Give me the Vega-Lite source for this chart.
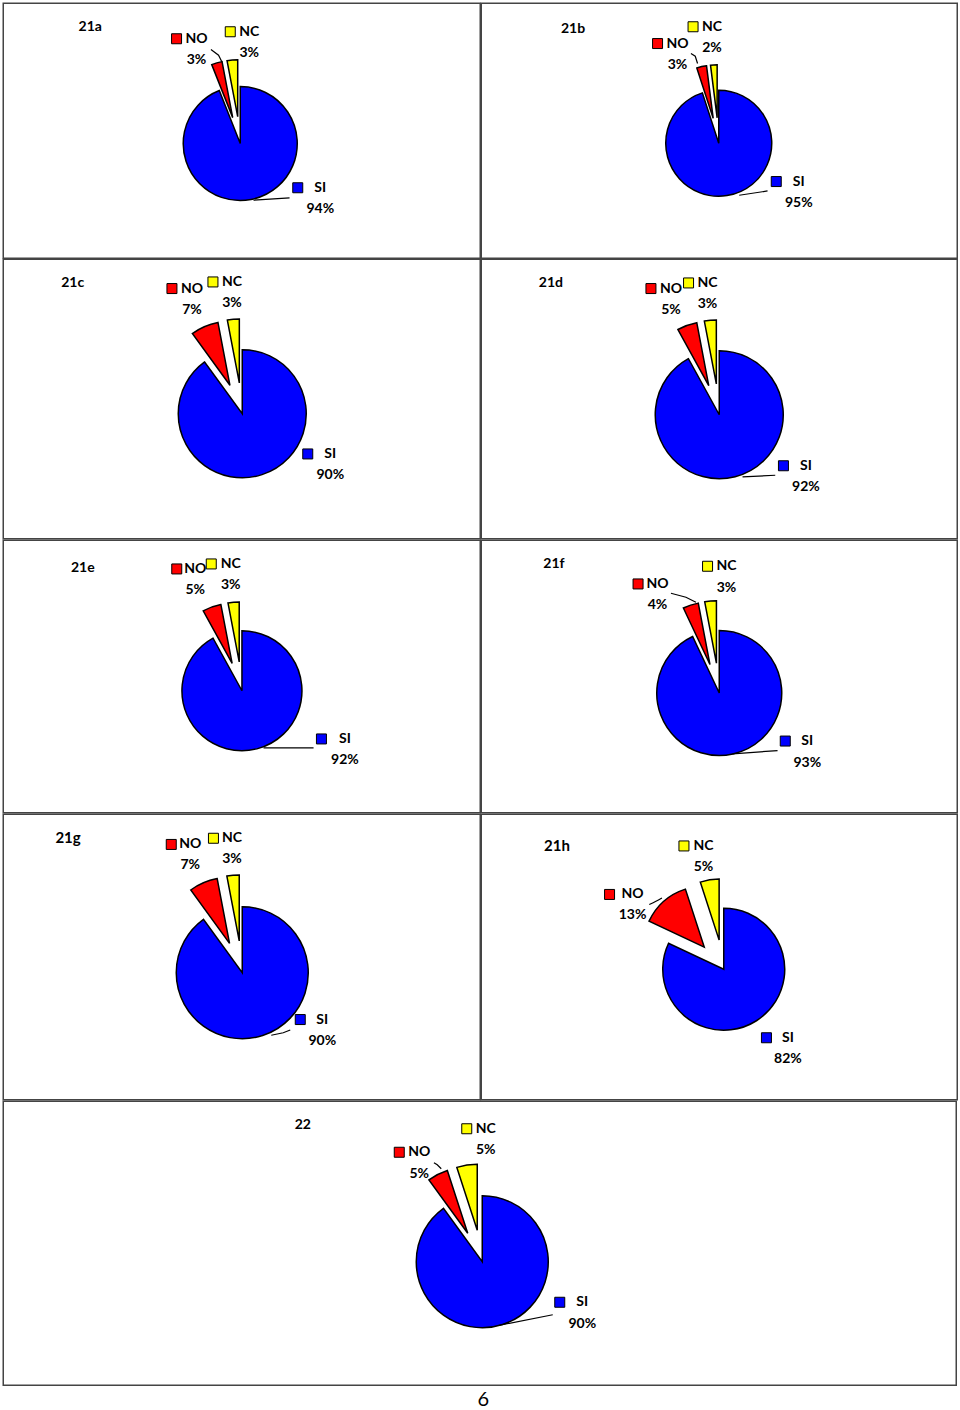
{
"$schema": "https://vega.github.io/schema/vega-lite/v6.json",
"background": "white",
"padding": {"left": 2.25, "top": 2.25, "right": 0, "bottom": 0},
"spacing": -1.5,
"config": {"view": {"stroke": "#444", "strokeWidth": 1.5}, "concat": {"spacing": -1.5}},
"title": {"text": "6", "orient": "bottom", "anchor": "middle", "font": "Lato", "fontSize": 20, "fontWeight": "normal", "color": "black", "offset": 4, "dx": 3},
"datasets": {
"slices": [
{"panel":"21a","cat":"SI","ord":1,"pct":0.94,"lx":80,"ly":44.2},
{"panel":"21a","cat":"NO","ord":2,"pct":0.03,"lx":-43.7,"ly":-104.8},
{"panel":"21a","cat":"NC","ord":3,"pct":0.03,"lx":9,"ly":-111.8},
{"panel":"21b","cat":"SI","ord":1,"pct":0.95,"lx":80,"ly":38.3},
{"panel":"21b","cat":"NO","ord":2,"pct":0.03,"lx":-41.2,"ly":-99.7},
{"panel":"21b","cat":"NC","ord":3,"pct":0.02,"lx":-6.7,"ly":-116.5},
{"panel":"21c","cat":"SI","ord":1,"pct":0.90,"lx":88,"ly":40.2},
{"panel":"21c","cat":"NO","ord":2,"pct":0.07,"lx":-50.3,"ly":-125.2},
{"panel":"21c","cat":"NC","ord":3,"pct":0.03,"lx":-10.3,"ly":-131.8},
{"panel":"21d","cat":"SI","ord":1,"pct":0.92,"lx":86.7,"ly":51},
{"panel":"21d","cat":"NO","ord":2,"pct":0.05,"lx":-48.3,"ly":-126.2},
{"panel":"21d","cat":"NC","ord":3,"pct":0.03,"lx":-11.7,"ly":-131.8},
{"panel":"21e","cat":"SI","ord":1,"pct":0.92,"lx":103,"ly":48.2},
{"panel":"21e","cat":"NO","ord":2,"pct":0.05,"lx":-46.7,"ly":-121.8},
{"panel":"21e","cat":"NC","ord":3,"pct":0.03,"lx":-11.2,"ly":-126.8},
{"panel":"21f","cat":"SI","ord":1,"pct":0.93,"lx":88,"ly":48},
{"panel":"21f","cat":"NO","ord":2,"pct":0.04,"lx":-61.7,"ly":-109.1},
{"panel":"21f","cat":"NC","ord":3,"pct":0.03,"lx":7.3,"ly":-126.8},
{"panel":"21g","cat":"SI","ord":1,"pct":0.90,"lx":80,"ly":46.8},
{"panel":"21g","cat":"NO","ord":2,"pct":0.07,"lx":-52,"ly":-128.3},
{"panel":"21g","cat":"NC","ord":3,"pct":0.03,"lx":-10.3,"ly":-134.5},
{"panel":"21h","cat":"SI","ord":1,"pct":0.82,"lx":64.2,"ly":68.5},
{"panel":"21h","cat":"NO","ord":2,"pct":0.13,"lx":-91.2,"ly":-74.8},
{"panel":"21h","cat":"NC","ord":3,"pct":0.05,"lx":-20.3,"ly":-123.3},
{"panel":"22","cat":"SI","ord":1,"pct":0.90,"lx":100,"ly":40.5},
{"panel":"22","cat":"NO","ord":2,"pct":0.05,"lx":-63,"ly":-109.5},
{"panel":"22","cat":"NC","ord":3,"pct":0.05,"lx":3.5,"ly":-133}
],
"titles": [
{"panel":"21a","tx":-150,"ty":-116.8},
{"panel":"21b","tx":-145.7,"ty":-114.7},
{"panel":"21c","tx":-169.5,"ty":-131},
{"panel":"21d","tx":-168.3,"ty":-131.8},
{"panel":"21e","tx":-159.2,"ty":-122.5},
{"panel":"21f","tx":-165.3,"ty":-128.8},
{"panel":"21g","tx":-174.2,"ty":-135},
{"panel":"21h","tx":-166.7,"ty":-123.5},
{"panel":"22","tx":-179.5,"ty":-137}
],
"leaders": [
{"panel":"21a","id":"SI","seq":1,"x":49.3,"y":54.4},
{"panel":"21a","id":"SI","seq":2,"x":13.3,"y":56.7},
{"panel":"21a","id":"NO","seq":1,"x":-29.3,"y":-94},
{"panel":"21a","id":"NO","seq":2,"x":-21.7,"y":-88.3},
{"panel":"21a","id":"NO","seq":3,"x":-18.3,"y":-81.6},
{"panel":"21b","id":"SI","seq":1,"x":48.8,"y":47.7},
{"panel":"21b","id":"SI","seq":2,"x":20.5,"y":52},
{"panel":"21b","id":"NO","seq":1,"x":-27.8,"y":-89.7},
{"panel":"21b","id":"NO","seq":2,"x":-23.5,"y":-87},
{"panel":"21b","id":"NO","seq":3,"x":-21.2,"y":-79.7},
{"panel":"21d","id":"SI","seq":1,"x":56,"y":60.5},
{"panel":"21d","id":"SI","seq":2,"x":23.3,"y":62.2},
{"panel":"21e","id":"SI","seq":1,"x":71.6,"y":57.2},
{"panel":"21e","id":"SI","seq":2,"x":21.6,"y":57.2},
{"panel":"21f","id":"SI","seq":1,"x":58.3,"y":57.5},
{"panel":"21f","id":"SI","seq":2,"x":13.3,"y":60.9},
{"panel":"21f","id":"NO","seq":1,"x":-48.3,"y":-99.8},
{"panel":"21f","id":"NO","seq":2,"x":-33.3,"y":-95.8},
{"panel":"21f","id":"NO","seq":3,"x":-23.3,"y":-90.8},
{"panel":"21g","id":"SI","seq":1,"x":48,"y":57.2},
{"panel":"21g","id":"SI","seq":2,"x":41,"y":60},
{"panel":"21g","id":"SI","seq":3,"x":29,"y":62.5},
{"panel":"21h","id":"NO","seq":1,"x":-74.5,"y":-64.7},
{"panel":"21h","id":"NO","seq":2,"x":-67.8,"y":-68},
{"panel":"21h","id":"NO","seq":3,"x":-61.8,"y":-71.3},
{"panel":"22","id":"SI","seq":1,"x":70.5,"y":53},
{"panel":"22","id":"SI","seq":2,"x":17,"y":63.5},
{"panel":"22","id":"NO","seq":1,"x":-48.3,"y":-99.1},
{"panel":"22","id":"NO","seq":2,"x":-45,"y":-97},
{"panel":"22","id":"NO","seq":3,"x":-41,"y":-93}
]
},
"vconcat": [
{"hconcat": [
{"width": 477, "height": 255, "data": {"name": "slices"}, "transform": [{"filter": "datum.panel == '21a'"}],
 "encoding": {"x": {"field": "lx", "type": "quantitative", "axis": null, "scale": {"domain": [-237, 240], "nice": false, "zero": false}},
              "y": {"field": "ly", "type": "quantitative", "axis": null, "scale": {"domain": [-140.3, 114.7], "nice": false, "zero": false, "reverse": true}}},
 "layer": [
  {"mark": {"type": "arc", "radius": 57, "stroke": "black", "strokeWidth": 1.5,
    "xOffset": {"expr": "datum.cat == 'SI' ? 0 : 27 * sin(PI * (datum.pct_start + datum.pct_end))"},
    "yOffset": {"expr": "datum.cat == 'SI' ? 0 : -27 * cos(PI * (datum.pct_start + datum.pct_end))"}},
   "encoding": {"x": {"datum": 0, "type": "quantitative", "axis": null}, "y": {"datum": 0, "type": "quantitative", "axis": null},
    "theta": {"field": "pct", "type": "quantitative", "stack": true, "scale": {"domain": [0, 1]}},
    "order": {"field": "ord", "type": "quantitative"},
    "color": {"field": "cat", "type": "nominal", "legend": null, "scale": {"domain": ["SI", "NO", "NC"], "range": ["#0000FF", "#FF0000", "#FFFF00"]}}}},
  {"data": {"name": "leaders"}, "transform": [{"filter": "datum.panel == '21a'"}], "mark": {"type": "line", "color": "black", "strokeWidth": 1.2},
   "encoding": {"x": {"field": "x", "type": "quantitative", "axis": null}, "y": {"field": "y", "type": "quantitative", "axis": null}, "detail": {"field": "id"}, "order": {"field": "seq"}}},
  {"mark": {"type": "point", "shape": "square", "size": 100, "filled": true, "opacity": 1, "stroke": "black", "strokeWidth": 1,
    "xOffset": {"expr": "datum.cat == 'SI' ? -22.5 : datum.cat == 'NO' ? -20 : -19"}},
   "encoding": {"color": {"field": "cat", "type": "nominal", "legend": null}}},
  {"mark": {"type": "text", "font": "Lato", "fontWeight": "bold", "fontSize": 14, "align": "center", "baseline": "middle", "color": "black"},
   "encoding": {"text": {"field": "cat"}}},
  {"mark": {"type": "text", "font": "Lato", "fontWeight": "bold", "fontSize": 14, "align": "center", "baseline": "middle", "color": "black", "dy": 21.5},
   "encoding": {"text": {"field": "pct", "type": "quantitative", "format": ".0%"}}},
  {"data": {"name": "titles"}, "transform": [{"filter": "datum.panel == '21a'"}], "mark": {"type": "text", "font": "Lato", "fontWeight": "bold", "fontSize": 14, "align": "center", "baseline": "middle", "color": "black"},
   "encoding": {"x": {"field": "tx", "type": "quantitative", "axis": null}, "y": {"field": "ty", "type": "quantitative", "axis": null}, "text": {"field": "panel"}}}
 ]},
{"width": 476, "height": 255, "data": {"name": "slices"}, "transform": [{"filter": "datum.panel == '21b'"}],
 "encoding": {"x": {"field": "lx", "type": "quantitative", "axis": null, "scale": {"domain": [-237.5, 238.5], "nice": false, "zero": false}},
              "y": {"field": "ly", "type": "quantitative", "axis": null, "scale": {"domain": [-140, 115], "nice": false, "zero": false, "reverse": true}}},
 "layer": [
  {"mark": {"type": "arc", "radius": 53, "stroke": "black", "strokeWidth": 1.5,
    "xOffset": {"expr": "datum.cat == 'SI' ? 0 : 25.5 * sin(PI * (datum.pct_start + datum.pct_end))"},
    "yOffset": {"expr": "datum.cat == 'SI' ? 0 : -25.5 * cos(PI * (datum.pct_start + datum.pct_end))"}},
   "encoding": {"x": {"datum": 0, "type": "quantitative", "axis": null}, "y": {"datum": 0, "type": "quantitative", "axis": null},
    "theta": {"field": "pct", "type": "quantitative", "stack": true, "scale": {"domain": [0, 1]}},
    "order": {"field": "ord", "type": "quantitative"},
    "color": {"field": "cat", "type": "nominal", "legend": null, "scale": {"domain": ["SI", "NO", "NC"], "range": ["#0000FF", "#FF0000", "#FFFF00"]}}}},
  {"data": {"name": "leaders"}, "transform": [{"filter": "datum.panel == '21b'"}], "mark": {"type": "line", "color": "black", "strokeWidth": 1.2},
   "encoding": {"x": {"field": "x", "type": "quantitative", "axis": null}, "y": {"field": "y", "type": "quantitative", "axis": null}, "detail": {"field": "id"}, "order": {"field": "seq"}}},
  {"mark": {"type": "point", "shape": "square", "size": 100, "filled": true, "opacity": 1, "stroke": "black", "strokeWidth": 1,
    "xOffset": {"expr": "datum.cat == 'SI' ? -22.5 : datum.cat == 'NO' ? -20 : -19"}},
   "encoding": {"color": {"field": "cat", "type": "nominal", "legend": null}}},
  {"mark": {"type": "text", "font": "Lato", "fontWeight": "bold", "fontSize": 14, "align": "center", "baseline": "middle", "color": "black"},
   "encoding": {"text": {"field": "cat"}}},
  {"mark": {"type": "text", "font": "Lato", "fontWeight": "bold", "fontSize": 14, "align": "center", "baseline": "middle", "color": "black", "dy": 21.5},
   "encoding": {"text": {"field": "pct", "type": "quantitative", "format": ".0%"}}},
  {"data": {"name": "titles"}, "transform": [{"filter": "datum.panel == '21b'"}], "mark": {"type": "text", "font": "Lato", "fontWeight": "bold", "fontSize": 14, "align": "center", "baseline": "middle", "color": "black"},
   "encoding": {"x": {"field": "tx", "type": "quantitative", "axis": null}, "y": {"field": "ty", "type": "quantitative", "axis": null}, "text": {"field": "panel"}}}
 ]}
], "spacing": -1.5},
{"hconcat": [
{"width": 477, "height": 279.5, "data": {"name": "slices"}, "transform": [{"filter": "datum.panel == '21c'"}],
 "encoding": {"x": {"field": "lx", "type": "quantitative", "axis": null, "scale": {"domain": [-239, 238], "nice": false, "zero": false}},
              "y": {"field": "ly", "type": "quantitative", "axis": null, "scale": {"domain": [-154.5, 125], "nice": false, "zero": false, "reverse": true}}},
 "layer": [
  {"mark": {"type": "arc", "radius": 64, "stroke": "black", "strokeWidth": 1.5,
    "xOffset": {"expr": "datum.cat == 'SI' ? 0 : 31 * sin(PI * (datum.pct_start + datum.pct_end))"},
    "yOffset": {"expr": "datum.cat == 'SI' ? 0 : -31 * cos(PI * (datum.pct_start + datum.pct_end))"}},
   "encoding": {"x": {"datum": 0, "type": "quantitative", "axis": null}, "y": {"datum": 0, "type": "quantitative", "axis": null},
    "theta": {"field": "pct", "type": "quantitative", "stack": true, "scale": {"domain": [0, 1]}},
    "order": {"field": "ord", "type": "quantitative"},
    "color": {"field": "cat", "type": "nominal", "legend": null, "scale": {"domain": ["SI", "NO", "NC"], "range": ["#0000FF", "#FF0000", "#FFFF00"]}}}},
  {"mark": {"type": "point", "shape": "square", "size": 100, "filled": true, "opacity": 1, "stroke": "black", "strokeWidth": 1,
    "xOffset": {"expr": "datum.cat == 'SI' ? -22.5 : datum.cat == 'NO' ? -20 : -19"}},
   "encoding": {"color": {"field": "cat", "type": "nominal", "legend": null}}},
  {"mark": {"type": "text", "font": "Lato", "fontWeight": "bold", "fontSize": 14, "align": "center", "baseline": "middle", "color": "black"},
   "encoding": {"text": {"field": "cat"}}},
  {"mark": {"type": "text", "font": "Lato", "fontWeight": "bold", "fontSize": 14, "align": "center", "baseline": "middle", "color": "black", "dy": 21},
   "encoding": {"text": {"field": "pct", "type": "quantitative", "format": ".0%"}}},
  {"data": {"name": "titles"}, "transform": [{"filter": "datum.panel == '21c'"}], "mark": {"type": "text", "font": "Lato", "fontWeight": "bold", "fontSize": 14, "align": "center", "baseline": "middle", "color": "black"},
   "encoding": {"x": {"field": "tx", "type": "quantitative", "axis": null}, "y": {"field": "ty", "type": "quantitative", "axis": null}, "text": {"field": "panel"}}}
 ]},
{"width": 476, "height": 279.5, "data": {"name": "slices"}, "transform": [{"filter": "datum.panel == '21d'"}],
 "encoding": {"x": {"field": "lx", "type": "quantitative", "axis": null, "scale": {"domain": [-238, 238], "nice": false, "zero": false}},
              "y": {"field": "ly", "type": "quantitative", "axis": null, "scale": {"domain": [-155.5, 124], "nice": false, "zero": false, "reverse": true}}},
 "layer": [
  {"mark": {"type": "arc", "radius": 64, "stroke": "black", "strokeWidth": 1.5,
    "xOffset": {"expr": "datum.cat == 'SI' ? 0 : 31 * sin(PI * (datum.pct_start + datum.pct_end))"},
    "yOffset": {"expr": "datum.cat == 'SI' ? 0 : -31 * cos(PI * (datum.pct_start + datum.pct_end))"}},
   "encoding": {"x": {"datum": 0, "type": "quantitative", "axis": null}, "y": {"datum": 0, "type": "quantitative", "axis": null},
    "theta": {"field": "pct", "type": "quantitative", "stack": true, "scale": {"domain": [0, 1]}},
    "order": {"field": "ord", "type": "quantitative"},
    "color": {"field": "cat", "type": "nominal", "legend": null, "scale": {"domain": ["SI", "NO", "NC"], "range": ["#0000FF", "#FF0000", "#FFFF00"]}}}},
  {"data": {"name": "leaders"}, "transform": [{"filter": "datum.panel == '21d'"}], "mark": {"type": "line", "color": "black", "strokeWidth": 1.2},
   "encoding": {"x": {"field": "x", "type": "quantitative", "axis": null}, "y": {"field": "y", "type": "quantitative", "axis": null}, "detail": {"field": "id"}, "order": {"field": "seq"}}},
  {"mark": {"type": "point", "shape": "square", "size": 100, "filled": true, "opacity": 1, "stroke": "black", "strokeWidth": 1,
    "xOffset": {"expr": "datum.cat == 'SI' ? -22.5 : datum.cat == 'NO' ? -20 : -19"}},
   "encoding": {"color": {"field": "cat", "type": "nominal", "legend": null}}},
  {"mark": {"type": "text", "font": "Lato", "fontWeight": "bold", "fontSize": 14, "align": "center", "baseline": "middle", "color": "black"},
   "encoding": {"text": {"field": "cat"}}},
  {"mark": {"type": "text", "font": "Lato", "fontWeight": "bold", "fontSize": 14, "align": "center", "baseline": "middle", "color": "black", "dy": 21},
   "encoding": {"text": {"field": "pct", "type": "quantitative", "format": ".0%"}}},
  {"data": {"name": "titles"}, "transform": [{"filter": "datum.panel == '21d'"}], "mark": {"type": "text", "font": "Lato", "fontWeight": "bold", "fontSize": 14, "align": "center", "baseline": "middle", "color": "black"},
   "encoding": {"x": {"field": "tx", "type": "quantitative", "axis": null}, "y": {"field": "ty", "type": "quantitative", "axis": null}, "text": {"field": "panel"}}}
 ]}
], "spacing": -1.5},
{"hconcat": [
{"width": 477, "height": 272.5, "data": {"name": "slices"}, "transform": [{"filter": "datum.panel == '21e'"}],
 "encoding": {"x": {"field": "lx", "type": "quantitative", "axis": null, "scale": {"domain": [-238.7, 238.3], "nice": false, "zero": false}},
              "y": {"field": "ly", "type": "quantitative", "axis": null, "scale": {"domain": [-150.5, 122], "nice": false, "zero": false, "reverse": true}}},
 "layer": [
  {"mark": {"type": "arc", "radius": 60, "stroke": "black", "strokeWidth": 1.5,
    "xOffset": {"expr": "datum.cat == 'SI' ? 0 : 29 * sin(PI * (datum.pct_start + datum.pct_end))"},
    "yOffset": {"expr": "datum.cat == 'SI' ? 0 : -29 * cos(PI * (datum.pct_start + datum.pct_end))"}},
   "encoding": {"x": {"datum": 0, "type": "quantitative", "axis": null}, "y": {"datum": 0, "type": "quantitative", "axis": null},
    "theta": {"field": "pct", "type": "quantitative", "stack": true, "scale": {"domain": [0, 1]}},
    "order": {"field": "ord", "type": "quantitative"},
    "color": {"field": "cat", "type": "nominal", "legend": null, "scale": {"domain": ["SI", "NO", "NC"], "range": ["#0000FF", "#FF0000", "#FFFF00"]}}}},
  {"data": {"name": "leaders"}, "transform": [{"filter": "datum.panel == '21e'"}], "mark": {"type": "line", "color": "black", "strokeWidth": 1.2},
   "encoding": {"x": {"field": "x", "type": "quantitative", "axis": null}, "y": {"field": "y", "type": "quantitative", "axis": null}, "detail": {"field": "id"}, "order": {"field": "seq"}}},
  {"mark": {"type": "point", "shape": "square", "size": 100, "filled": true, "opacity": 1, "stroke": "black", "strokeWidth": 1,
    "xOffset": {"expr": "datum.cat == 'SI' ? -23.5 : datum.cat == 'NO' ? -18.5 : -19.5"}},
   "encoding": {"color": {"field": "cat", "type": "nominal", "legend": null}}},
  {"mark": {"type": "text", "font": "Lato", "fontWeight": "bold", "fontSize": 14, "align": "center", "baseline": "middle", "color": "black"},
   "encoding": {"text": {"field": "cat"}}},
  {"mark": {"type": "text", "font": "Lato", "fontWeight": "bold", "fontSize": 14, "align": "center", "baseline": "middle", "color": "black", "dy": 21.5},
   "encoding": {"text": {"field": "pct", "type": "quantitative", "format": ".0%"}}},
  {"data": {"name": "titles"}, "transform": [{"filter": "datum.panel == '21e'"}], "mark": {"type": "text", "font": "Lato", "fontWeight": "bold", "fontSize": 14, "align": "center", "baseline": "middle", "color": "black"},
   "encoding": {"x": {"field": "tx", "type": "quantitative", "axis": null}, "y": {"field": "ty", "type": "quantitative", "axis": null}, "text": {"field": "panel"}}}
 ]},
{"width": 476, "height": 272.5, "data": {"name": "slices"}, "transform": [{"filter": "datum.panel == '21f'"}],
 "encoding": {"x": {"field": "lx", "type": "quantitative", "axis": null, "scale": {"domain": [-238, 238], "nice": false, "zero": false}},
              "y": {"field": "ly", "type": "quantitative", "axis": null, "scale": {"domain": [-152.8, 119.7], "nice": false, "zero": false, "reverse": true}}},
 "layer": [
  {"mark": {"type": "arc", "radius": 62.5, "stroke": "black", "strokeWidth": 1.5,
    "xOffset": {"expr": "datum.cat == 'SI' ? 0 : 30 * sin(PI * (datum.pct_start + datum.pct_end))"},
    "yOffset": {"expr": "datum.cat == 'SI' ? 0 : -30 * cos(PI * (datum.pct_start + datum.pct_end))"}},
   "encoding": {"x": {"datum": 0, "type": "quantitative", "axis": null}, "y": {"datum": 0, "type": "quantitative", "axis": null},
    "theta": {"field": "pct", "type": "quantitative", "stack": true, "scale": {"domain": [0, 1]}},
    "order": {"field": "ord", "type": "quantitative"},
    "color": {"field": "cat", "type": "nominal", "legend": null, "scale": {"domain": ["SI", "NO", "NC"], "range": ["#0000FF", "#FF0000", "#FFFF00"]}}}},
  {"data": {"name": "leaders"}, "transform": [{"filter": "datum.panel == '21f'"}], "mark": {"type": "line", "color": "black", "strokeWidth": 1.2},
   "encoding": {"x": {"field": "x", "type": "quantitative", "axis": null}, "y": {"field": "y", "type": "quantitative", "axis": null}, "detail": {"field": "id"}, "order": {"field": "seq"}}},
  {"mark": {"type": "point", "shape": "square", "size": 100, "filled": true, "opacity": 1, "stroke": "black", "strokeWidth": 1,
    "xOffset": {"expr": "datum.cat == 'SI' ? -22 : datum.cat == 'NO' ? -19.5 : -19"}},
   "encoding": {"color": {"field": "cat", "type": "nominal", "legend": null}}},
  {"mark": {"type": "text", "font": "Lato", "fontWeight": "bold", "fontSize": 14, "align": "center", "baseline": "middle", "color": "black"},
   "encoding": {"text": {"field": "cat"}}},
  {"mark": {"type": "text", "font": "Lato", "fontWeight": "bold", "fontSize": 14, "align": "center", "baseline": "middle", "color": "black", "dy": 21.5},
   "encoding": {"text": {"field": "pct", "type": "quantitative", "format": ".0%"}}},
  {"data": {"name": "titles"}, "transform": [{"filter": "datum.panel == '21f'"}], "mark": {"type": "text", "font": "Lato", "fontWeight": "bold", "fontSize": 14, "align": "center", "baseline": "middle", "color": "black"},
   "encoding": {"x": {"field": "tx", "type": "quantitative", "axis": null}, "y": {"field": "ty", "type": "quantitative", "axis": null}, "text": {"field": "panel"}}}
 ]}
], "spacing": -1.5},
{"hconcat": [
{"width": 477, "height": 285.5, "data": {"name": "slices"}, "transform": [{"filter": "datum.panel == '21g'"}],
 "encoding": {"x": {"field": "lx", "type": "quantitative", "axis": null, "scale": {"domain": [-239, 238], "nice": false, "zero": false}},
              "y": {"field": "ly", "type": "quantitative", "axis": null, "scale": {"domain": [-158.5, 127], "nice": false, "zero": false, "reverse": true}}},
 "layer": [
  {"mark": {"type": "arc", "radius": 66, "stroke": "black", "strokeWidth": 1.5,
    "xOffset": {"expr": "datum.cat == 'SI' ? 0 : 32 * sin(PI * (datum.pct_start + datum.pct_end))"},
    "yOffset": {"expr": "datum.cat == 'SI' ? 0 : -32 * cos(PI * (datum.pct_start + datum.pct_end))"}},
   "encoding": {"x": {"datum": 0, "type": "quantitative", "axis": null}, "y": {"datum": 0, "type": "quantitative", "axis": null},
    "theta": {"field": "pct", "type": "quantitative", "stack": true, "scale": {"domain": [0, 1]}},
    "order": {"field": "ord", "type": "quantitative"},
    "color": {"field": "cat", "type": "nominal", "legend": null, "scale": {"domain": ["SI", "NO", "NC"], "range": ["#0000FF", "#FF0000", "#FFFF00"]}}}},
  {"data": {"name": "leaders"}, "transform": [{"filter": "datum.panel == '21g'"}], "mark": {"type": "line", "color": "black", "strokeWidth": 1.2},
   "encoding": {"x": {"field": "x", "type": "quantitative", "axis": null}, "y": {"field": "y", "type": "quantitative", "axis": null}, "detail": {"field": "id"}, "order": {"field": "seq"}}},
  {"mark": {"type": "point", "shape": "square", "size": 100, "filled": true, "opacity": 1, "stroke": "black", "strokeWidth": 1,
    "xOffset": {"expr": "datum.cat == 'SI' ? -22 : datum.cat == 'NO' ? -19 : -18.5"}},
   "encoding": {"color": {"field": "cat", "type": "nominal", "legend": null}}},
  {"mark": {"type": "text", "font": "Lato", "fontWeight": "bold", "fontSize": 14, "align": "center", "baseline": "middle", "color": "black"},
   "encoding": {"text": {"field": "cat"}}},
  {"mark": {"type": "text", "font": "Lato", "fontWeight": "bold", "fontSize": 14, "align": "center", "baseline": "middle", "color": "black", "dy": 21},
   "encoding": {"text": {"field": "pct", "type": "quantitative", "format": ".0%"}}},
  {"data": {"name": "titles"}, "transform": [{"filter": "datum.panel == '21g'"}], "mark": {"type": "text", "font": "Lato", "fontWeight": "bold", "fontSize": 15, "align": "center", "baseline": "middle", "color": "black"},
   "encoding": {"x": {"field": "tx", "type": "quantitative", "axis": null}, "y": {"field": "ty", "type": "quantitative", "axis": null}, "text": {"field": "panel"}}}
 ]},
{"width": 476, "height": 285.5, "data": {"name": "slices"}, "transform": [{"filter": "datum.panel == '21h'"}],
 "encoding": {"x": {"field": "lx", "type": "quantitative", "axis": null, "scale": {"domain": [-242.5, 233.5], "nice": false, "zero": false}},
              "y": {"field": "ly", "type": "quantitative", "axis": null, "scale": {"domain": [-155, 130.5], "nice": false, "zero": false, "reverse": true}}},
 "layer": [
  {"mark": {"type": "arc", "radius": 61, "stroke": "black", "strokeWidth": 1.5,
    "xOffset": {"expr": "datum.cat == 'SI' ? 0 : 29.5 * sin(PI * (datum.pct_start + datum.pct_end))"},
    "yOffset": {"expr": "datum.cat == 'SI' ? 0 : -29.5 * cos(PI * (datum.pct_start + datum.pct_end))"}},
   "encoding": {"x": {"datum": 0, "type": "quantitative", "axis": null}, "y": {"datum": 0, "type": "quantitative", "axis": null},
    "theta": {"field": "pct", "type": "quantitative", "stack": true, "scale": {"domain": [0, 1]}},
    "order": {"field": "ord", "type": "quantitative"},
    "color": {"field": "cat", "type": "nominal", "legend": null, "scale": {"domain": ["SI", "NO", "NC"], "range": ["#0000FF", "#FF0000", "#FFFF00"]}}}},
  {"data": {"name": "leaders"}, "transform": [{"filter": "datum.panel == '21h'"}], "mark": {"type": "line", "color": "black", "strokeWidth": 1.2, "interpolate": "monotone"},
   "encoding": {"x": {"field": "x", "type": "quantitative", "axis": null}, "y": {"field": "y", "type": "quantitative", "axis": null}, "detail": {"field": "id"}, "order": {"field": "seq"}}},
  {"mark": {"type": "point", "shape": "square", "size": 100, "filled": true, "opacity": 1, "stroke": "black", "strokeWidth": 1,
    "xOffset": {"expr": "datum.cat == 'SI' ? -21.5 : datum.cat == 'NO' ? -23 : -19.5"}},
   "encoding": {"color": {"field": "cat", "type": "nominal", "legend": null}}},
  {"mark": {"type": "text", "font": "Lato", "fontWeight": "bold", "fontSize": 14, "align": "center", "baseline": "middle", "color": "black"},
   "encoding": {"text": {"field": "cat"}}},
  {"mark": {"type": "text", "font": "Lato", "fontWeight": "bold", "fontSize": 14, "align": "center", "baseline": "middle", "color": "black", "dy": 21},
   "encoding": {"text": {"field": "pct", "type": "quantitative", "format": ".0%"}}},
  {"data": {"name": "titles"}, "transform": [{"filter": "datum.panel == '21h'"}], "mark": {"type": "text", "font": "Lato", "fontWeight": "bold", "fontSize": 15, "align": "center", "baseline": "middle", "color": "black"},
   "encoding": {"x": {"field": "tx", "type": "quantitative", "axis": null}, "y": {"field": "ty", "type": "quantitative", "axis": null}, "text": {"field": "panel"}}}
 ]}
], "spacing": -1.5},
{"width": 953, "height": 284, "data": {"name": "slices"}, "transform": [{"filter": "datum.panel == '22'"}],
 "encoding": {"x": {"field": "lx", "type": "quantitative", "axis": null, "scale": {"domain": [-479, 474], "nice": false, "zero": false}},
              "y": {"field": "ly", "type": "quantitative", "axis": null, "scale": {"domain": [-160.5, 123.5], "nice": false, "zero": false, "reverse": true}}},
 "layer": [
  {"mark": {"type": "arc", "radius": 66, "stroke": "black", "strokeWidth": 1.5,
    "xOffset": {"expr": "datum.cat == 'SI' ? 0 : 32 * sin(PI * (datum.pct_start + datum.pct_end))"},
    "yOffset": {"expr": "datum.cat == 'SI' ? 0 : -32 * cos(PI * (datum.pct_start + datum.pct_end))"}},
   "encoding": {"x": {"datum": 0, "type": "quantitative", "axis": null}, "y": {"datum": 0, "type": "quantitative", "axis": null},
    "theta": {"field": "pct", "type": "quantitative", "stack": true, "scale": {"domain": [0, 1]}},
    "order": {"field": "ord", "type": "quantitative"},
    "color": {"field": "cat", "type": "nominal", "legend": null, "scale": {"domain": ["SI", "NO", "NC"], "range": ["#0000FF", "#FF0000", "#FFFF00"]}}}},
  {"data": {"name": "leaders"}, "transform": [{"filter": "datum.panel == '22'"}], "mark": {"type": "line", "color": "black", "strokeWidth": 1.2},
   "encoding": {"x": {"field": "x", "type": "quantitative", "axis": null}, "y": {"field": "y", "type": "quantitative", "axis": null}, "detail": {"field": "id"}, "order": {"field": "seq"}}},
  {"mark": {"type": "point", "shape": "square", "size": 100, "filled": true, "opacity": 1, "stroke": "black", "strokeWidth": 1,
    "xOffset": {"expr": "datum.cat == 'SI' ? -22.5 : datum.cat == 'NO' ? -20 : -19"}},
   "encoding": {"color": {"field": "cat", "type": "nominal", "legend": null}}},
  {"mark": {"type": "text", "font": "Lato", "fontWeight": "bold", "fontSize": 14, "align": "center", "baseline": "middle", "color": "black"},
   "encoding": {"text": {"field": "cat"}}},
  {"mark": {"type": "text", "font": "Lato", "fontWeight": "bold", "fontSize": 14, "align": "center", "baseline": "middle", "color": "black", "dy": 21.5},
   "encoding": {"text": {"field": "pct", "type": "quantitative", "format": ".0%"}}},
  {"data": {"name": "titles"}, "transform": [{"filter": "datum.panel == '22'"}], "mark": {"type": "text", "font": "Lato", "fontWeight": "bold", "fontSize": 14, "align": "center", "baseline": "middle", "color": "black"},
   "encoding": {"x": {"field": "tx", "type": "quantitative", "axis": null}, "y": {"field": "ty", "type": "quantitative", "axis": null}, "text": {"field": "panel"}}}
 ]}
]
}
